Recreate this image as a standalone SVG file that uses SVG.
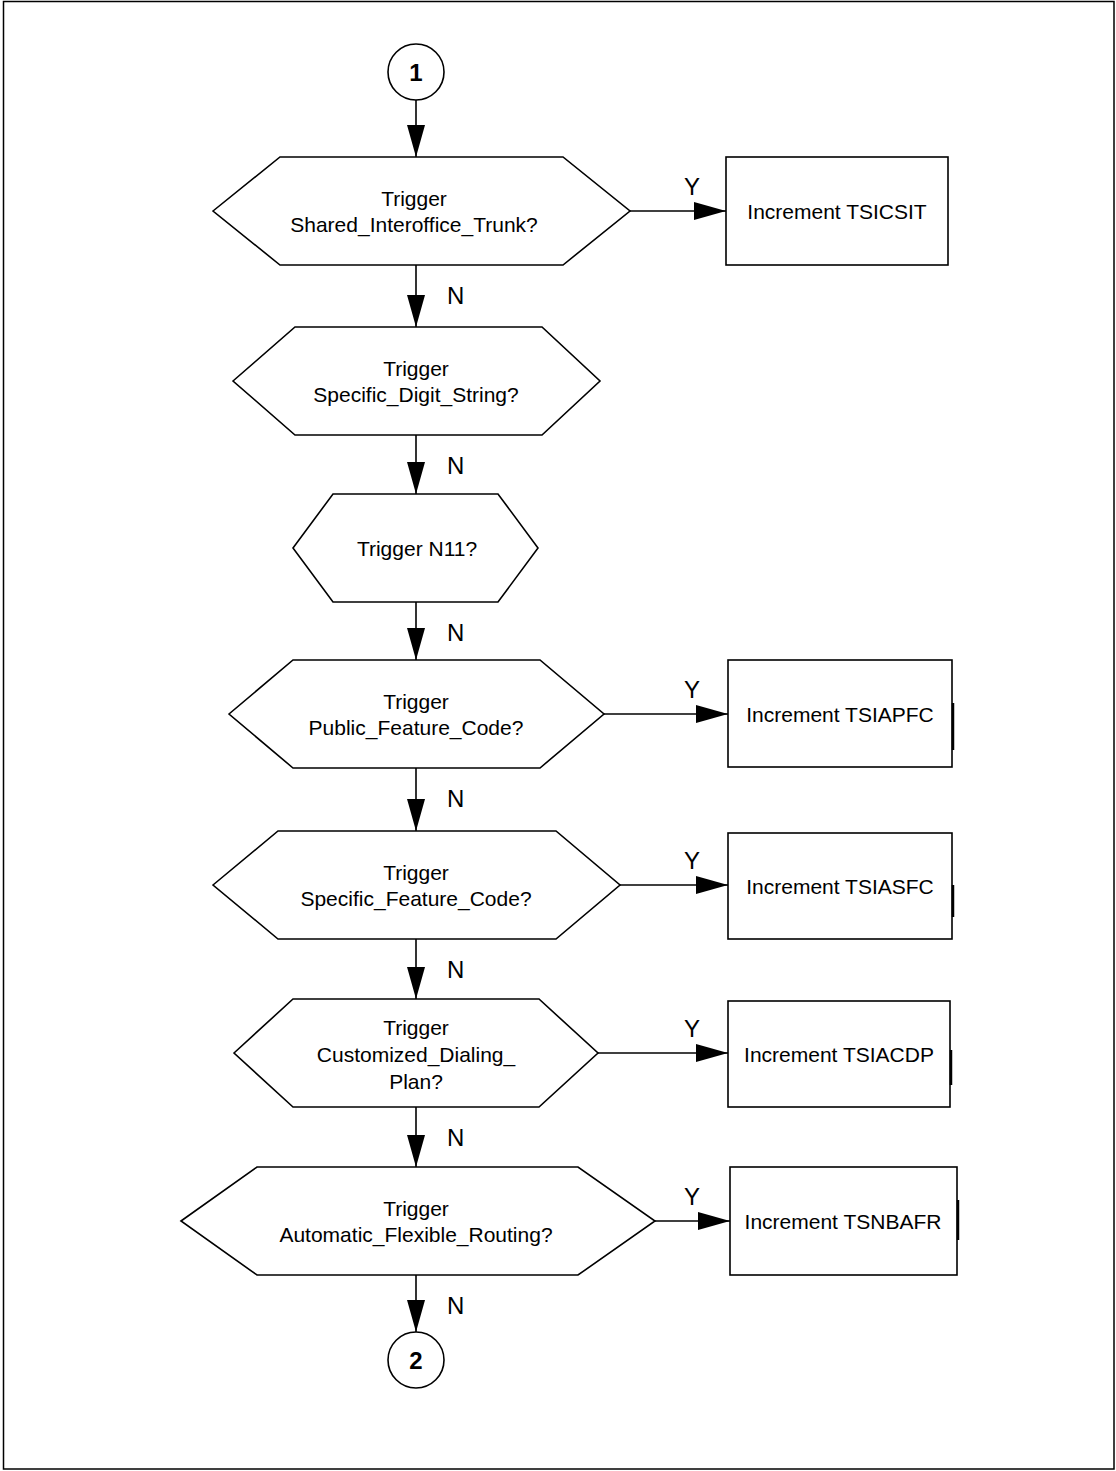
<svg xmlns="http://www.w3.org/2000/svg" width="1116" height="1471" viewBox="0 0 1116 1471">
<style>
.s{fill:#fff;stroke:#000;stroke-width:1.6}
.c{fill:none;stroke:#000;stroke-width:1.6}
.t{font-family:"Liberation Sans",Arial,sans-serif;font-size:21px;fill:#000;text-anchor:middle}
.y{font-family:"Liberation Sans",Arial,sans-serif;font-size:24px;fill:#000;text-anchor:middle}
.l{font-family:"Liberation Sans",Arial,sans-serif;font-size:24px;fill:#000}
.b{font-family:"Liberation Sans",Arial,sans-serif;font-size:24px;font-weight:bold;fill:#000;text-anchor:middle}
.k{stroke:#000;stroke-width:2.5}
</style>
<defs>
<marker id="ah" markerUnits="userSpaceOnUse" markerWidth="33" markerHeight="19" refX="32" refY="9" orient="auto">
<path d="M0,0 L32,9 L0,18 z" fill="#000"/>
</marker>
</defs>
<rect x="3.5" y="1.5" width="1110.5" height="1467.5" fill="#fff" stroke="#000" stroke-width="1.5"/>
<g id="connectors">
<line class="c" x1="416" y1="100" x2="416" y2="157" marker-end="url(#ah)"/>
<line class="c" x1="416" y1="265" x2="416" y2="327" marker-end="url(#ah)"/>
<line class="c" x1="416" y1="435" x2="416" y2="494" marker-end="url(#ah)"/>
<line class="c" x1="416" y1="602" x2="416" y2="660" marker-end="url(#ah)"/>
<line class="c" x1="416" y1="768" x2="416" y2="831" marker-end="url(#ah)"/>
<line class="c" x1="416" y1="939" x2="416" y2="999" marker-end="url(#ah)"/>
<line class="c" x1="416" y1="1107" x2="416" y2="1167" marker-end="url(#ah)"/>
<line class="c" x1="416" y1="1275" x2="416" y2="1332" marker-end="url(#ah)"/>
<line class="c" x1="630" y1="211" x2="726" y2="211" marker-end="url(#ah)"/>
<line class="c" x1="604" y1="714" x2="728" y2="714" marker-end="url(#ah)"/>
<line class="c" x1="620" y1="885" x2="728" y2="885" marker-end="url(#ah)"/>
<line class="c" x1="598" y1="1053" x2="728" y2="1053" marker-end="url(#ah)"/>
<line class="c" x1="655" y1="1221" x2="730" y2="1221" marker-end="url(#ah)"/>
<text class="l" x="447" y="304">N</text>
<text class="l" x="447" y="474">N</text>
<text class="l" x="447" y="641">N</text>
<text class="l" x="447" y="807">N</text>
<text class="l" x="447" y="978">N</text>
<text class="l" x="447" y="1146">N</text>
<text class="l" x="447" y="1314">N</text>
<text class="y" x="692" y="195">Y</text>
<text class="y" x="692" y="698">Y</text>
<text class="y" x="692" y="869">Y</text>
<text class="y" x="692" y="1037">Y</text>
<text class="y" x="692" y="1205">Y</text>
</g>
<g id="start1">
<circle class="s" cx="416" cy="72" r="28"/>
<text class="b" x="416" y="81">1</text>
</g>
<g id="dec1">
<polygon class="s" points="213,211 280,157 563,157 630,211 563,265 280,265"/>
<text class="t" x="414" y="206">Trigger</text>
<text class="t" x="414" y="232">Shared_Interoffice_Trunk?</text>
</g>
<g id="box1">
<rect class="s" x="726" y="157" width="222" height="108"/>
<text class="t" x="837" y="219">Increment TSICSIT</text>
</g>
<g id="dec2">
<polygon class="s" points="233,381 295,327 542,327 600,381 542,435 295,435"/>
<text class="t" x="416" y="376">Trigger</text>
<text class="t" x="416" y="402">Specific_Digit_String?</text>
</g>
<g id="dec3">
<polygon class="s" points="293,548 333,494 498,494 538,548 498,602 333,602"/>
<text class="t" x="417" y="556">Trigger N11?</text>
</g>
<g id="dec4">
<polygon class="s" points="229,714 293,660 540,660 604,714 540,768 293,768"/>
<text class="t" x="416" y="709">Trigger</text>
<text class="t" x="416" y="735">Public_Feature_Code?</text>
</g>
<g id="box2">
<rect class="s" x="728" y="660" width="224" height="107"/>
<line class="k" x1="953" y1="703" x2="953" y2="750"/>
<text class="t" x="840" y="722">Increment TSIAPFC</text>
</g>
<g id="dec5">
<polygon class="s" points="213,885 278,831 556,831 620,885 556,939 278,939"/>
<text class="t" x="416" y="880">Trigger</text>
<text class="t" x="416" y="906">Specific_Feature_Code?</text>
</g>
<g id="box3">
<rect class="s" x="728" y="833" width="224" height="106"/>
<line class="k" x1="953" y1="885" x2="953" y2="917"/>
<text class="t" x="840" y="894">Increment TSIASFC</text>
</g>
<g id="dec6">
<polygon class="s" points="234,1053 293,999 539,999 598,1053 539,1107 293,1107"/>
<text class="t" x="416" y="1035">Trigger</text>
<text class="t" x="416" y="1062">Customized_Dialing_</text>
<text class="t" x="416" y="1089">Plan?</text>
</g>
<g id="box4">
<rect class="s" x="728" y="1001" width="222" height="106"/>
<line class="k" x1="951" y1="1050" x2="951" y2="1085"/>
<text class="t" x="839" y="1062">Increment TSIACDP</text>
</g>
<g id="dec7">
<polygon class="s" points="181,1221 257,1167 578,1167 655,1221 578,1275 257,1275"/>
<text class="t" x="416" y="1216">Trigger</text>
<text class="t" x="416" y="1242">Automatic_Flexible_Routing?</text>
</g>
<g id="box5">
<rect class="s" x="730" y="1167" width="227" height="108"/>
<line class="k" x1="958" y1="1200" x2="958" y2="1240"/>
<text class="t" x="843" y="1229">Increment TSNBAFR</text>
</g>
<g id="end2">
<circle class="s" cx="416" cy="1360" r="28"/>
<text class="b" x="416" y="1369">2</text>
</g>
</svg>
